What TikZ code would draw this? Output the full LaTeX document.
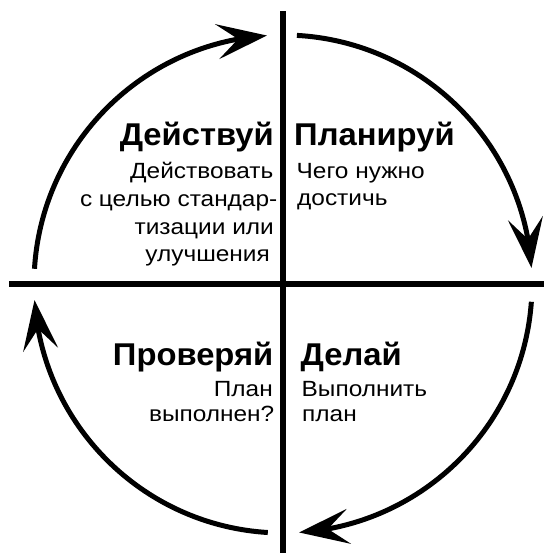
\documentclass[tikz,border=0pt]{standalone}
\usepackage{fontspec}
\setmainfont{Liberation Sans}
\newfontfamily\pdcabody[FakeStretch=1.11]{Liberation Sans}
\newfontfamily\pdcahead[FakeStretch=1.04]{Liberation Sans}
\usetikzlibrary{arrows.meta,bending,calc}
\begin{document}
\begin{tikzpicture}[x=1pt,y=1pt,
  head/.style={font=\pdcahead\fontsize{31.5}{31.5}\selectfont\bfseries, inner sep=0pt},
  body/.style={font=\pdcabody\fontsize{22}{22}\selectfont, inner sep=0pt},
  cyc/.style={line width=5pt, -{Stealth[length=50pt,width=35pt,inset=21pt]}},
  axisline/.style={line width=5.5pt}]
\useasboundingbox (0,0) rectangle (544,553);
\coordinate (O) at (283,269);
\coordinate (T) at (283,541.5);
\coordinate (B) at (283,0);
\coordinate (L) at (9,269);
\coordinate (R) at (544,269);
\draw[axisline] (T) -- (B);
\draw[axisline] (L) -- (R);
% cycle arcs
\draw[cyc] ($(O)+(86.8:249)$) arc[start angle=86.8, end angle=3.7, radius=249];
\draw[cyc] ($(O)+(-4.1:249)$) arc[start angle=-4.1, end angle=-86.3, radius=249];
\draw[cyc] ($(O)+(-93.5:249)$) arc[start angle=-93.5, end angle=-176.3, radius=249];
\draw[cyc] ($(O)+(176.5:249)$) arc[start angle=176.5, end angle=93.7, radius=249];
% Act
\node[head, anchor=base east] (actH) at (274,407) {Действуй};
\node[body, anchor=base east] (act1) at (273.5,374.7) {Действовать};
\node[body, anchor=base east] (act2) at (277.5,346.5) {с целью стандар-};
\node[body, anchor=base east] (act3) at (274,318) {тизации или};
\node[body, anchor=base east] (act4) at (270,291) {улучшения};
% Plan
\node[head, anchor=base west] (planH) at (294,407) {Планируй};
\node[body, anchor=base west] (plan1) at (296.5,374.7) {Чего нужно};
\node[body, anchor=base west] (plan2) at (297,347.5) {достичь};
% Check
\node[head, anchor=base east] (chkH) at (273.5,187) {Проверяй};
\node[body, anchor=base east] (chk1) at (273,156.3) {План};
\node[body, anchor=base east] (chk2) at (274.5,131.3) {выполнен?};
% Do
\node[head, anchor=base west] (doH) at (300.5,187) {Делай};
\node[body, anchor=base west] (do1) at (301.5,156.3) {Выполнить};
\node[body, anchor=base west] (do2) at (302,131.3) {план};
\end{tikzpicture}
\end{document}
